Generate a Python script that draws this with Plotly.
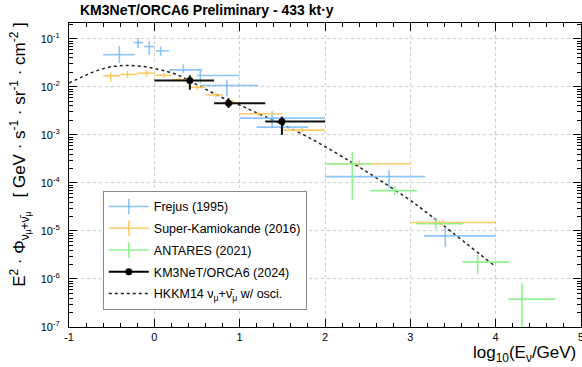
import plotly.graph_objects as go
import numpy as np

# ---------------- data ----------------
# Frejus (1995)
frejus_x    = [-0.41, -0.19, -0.06, 0.074, 0.34, 0.54, 0.85, 1.38, 1.50, 2.75, 3.41]
frejus_xlo  = [-0.60, -0.245, -0.12, 0.015, 0.17, 0.50, 0.54, 1.00, 1.20, 2.00, 3.16]
frejus_xhi  = [-0.23, -0.13, 0.00, 0.17, 0.56, 1.00, 1.22, 2.00, 1.80, 3.17, 4.00]
frejus_y    = [0.0468, 0.0838, 0.0692, 0.0562, 0.0226, 0.0172, 0.0107, 0.00224, 0.00145, 1.35e-4, 7.9e-6]
frejus_ylo  = [0.0312, 0.0646, 0.0465, 0.0443, 0.0195, 0.0120, 0.0063, 0.00138, 0.00110, 7.8e-5, 4.6e-6]
frejus_yhi  = [0.0714, 0.1030, 0.0879, 0.0692, 0.0295, 0.0226, 0.0140, 0.00309, 0.00174, 1.86e-4, 1.15e-5]

# Super-Kamiokande (2016)
sk_x   = [-0.51, -0.315, -0.09, 0.11, 0.29, 0.50, 0.72, 0.92, 1.22, 1.73, 2.40, 3.38]
sk_xlo = [-0.60, -0.40, -0.20, 0.00, 0.20, 0.40, 0.60, 0.80, 1.00, 1.50, 2.00, 3.00]
sk_xhi = [-0.40, -0.20, 0.00, 0.20, 0.40, 0.60, 0.80, 1.00, 1.50, 2.00, 3.00, 4.00]
sk_y   = [0.0170, 0.0182, 0.0193, 0.0174, 0.0141, 0.0098, 0.0068, 0.0047, 0.00275, 0.00126, 2.5e-4, 1.5e-5]
sk_ylo = [0.0129, 0.0155, 0.0164, 0.0155, 0.0126, 0.0087, 0.0061, 0.0042, 0.00245, 0.00112, 2.17e-4, 1.3e-5]
sk_yhi = [0.0200, 0.0214, 0.0227, 0.0195, 0.0158, 0.0110, 0.0076, 0.0053, 0.00309, 0.00141, 2.88e-4, 1.73e-5]

# ANTARES (2021)
ant_x   = [2.32, 2.82, 3.30, 3.79, 4.31]
ant_xlo = [2.00, 2.53, 3.07, 3.61, 4.15]
ant_xhi = [2.55, 3.08, 3.62, 4.16, 4.70]
ant_y   = [2.5e-4, 6.9e-5, 1.41e-5, 2.24e-6, 3.8e-7]
ant_ylo = [4.5e-5, 5.6e-5, 1.10e-5, 1.26e-6, 1.0e-8]
ant_yhi = [4.5e-4, 8.5e-5, 1.82e-5, 3.2e-6, 8.1e-7]

# KM3NeT/ORCA6 (2024)
km_x   = [0.416, 0.87, 1.495]
km_xlo = [0.00, 0.70, 1.30]
km_xhi = [0.70, 1.30, 2.00]
km_y   = [0.01355, 0.00457, 0.00190]
km_ylo = [0.0087, 0.00363, 0.00100]
km_yhi = [0.0174, 0.00582, 0.00240]

# HKKM14 nu_mu + anti-nu_mu w/ oscillations
hk_x = [-1.0, -0.85, -0.7, -0.5, -0.32, -0.12, 0.07, 0.27, 0.46, 0.66, 0.85, 1.0, 1.16, 1.475, 1.9, 2.32, 2.64, 2.99, 3.15, 3.38, 4.0]
hk_y = [0.0120, 0.0160, 0.0209, 0.0265, 0.0278, 0.0265, 0.0226, 0.0178, 0.0120, 0.0079, 0.0054, 0.0042, 0.0031, 0.00174,
        7.2e-4, 2.63e-4, 1.15e-4, 4.47e-5, 2.75e-5, 1.33e-5, 1.8e-6]

x_tickvals = [-1, 0, 1, 2, 3, 4, 5]
y_tickvals = [1e-7, 1e-6, 1e-5, 1e-4, 1e-3, 1e-2, 1e-1]
y_ticktext = ["10<sup>-7</sup>", "10<sup>-6</sup>", "10<sup>-5</sup>", "10<sup>-4</sup>",
              "10<sup>-3</sup>", "10<sup>-2</sup>", "10<sup>-1</sup>"]

series = [
    ("Frejus (1995)", frejus_x, frejus_xlo, frejus_xhi, frejus_y, frejus_ylo, frejus_yhi, "rgba(130,190,250,0.9)"),
    ("Super-Kamiokande (2016)", sk_x, sk_xlo, sk_xhi, sk_y, sk_ylo, sk_yhi, "rgba(255,200,95,0.95)"),
    ("ANTARES (2021)", ant_x, ant_xlo, ant_xhi, ant_y, ant_ylo, ant_yhi, "rgba(140,240,140,0.95)"),
]

FONT = "Liberation Sans, Arial, sans-serif"
fig = go.Figure()

# HKKM14 curve
fig.add_trace(go.Scatter(x=hk_x, y=hk_y, mode="lines", line=dict(color="#222", width=1.5, dash="dot", shape="spline"),
                         showlegend=False, hoverinfo="skip"))

for name, x, xlo, xhi, y, ylo, yhi, col in series:
    x = np.array(x); y = np.array(y)
    fig.add_trace(go.Scatter(
        x=x, y=y, mode="markers", marker=dict(size=1, color=col), showlegend=False,
        error_x=dict(type="data", symmetric=False, array=np.array(xhi) - x, arrayminus=x - np.array(xlo),
                     color=col, thickness=1.6, width=0),
        error_y=dict(type="data", symmetric=False, array=np.array(yhi) - y, arrayminus=y - np.array(ylo),
                     color=col, thickness=1.6, width=0),
    ))

kx = np.array(km_x); ky = np.array(km_y)
fig.add_trace(go.Scatter(
    x=kx, y=ky, mode="markers", marker=dict(size=7, color="black", symbol="circle"), showlegend=False,
    error_x=dict(type="data", symmetric=False, array=np.array(km_xhi) - kx, arrayminus=kx - np.array(km_xlo),
                 color="#111", thickness=2, width=0),
    error_y=dict(type="data", symmetric=False, array=np.array(km_yhi) - ky, arrayminus=ky - np.array(km_ylo),
                 color="#111", thickness=2, width=0),
))

# legend entries
for i, (name, *_rest, col) in enumerate(series):
    fig.add_trace(go.Scatter(x=[None], y=[None], mode="lines+markers", name=name, legendgroup=name,
                             line=dict(color=col, width=1.6),
                             marker=dict(symbol="line-ns-open", size=11, line=dict(color=col, width=1.6))))
fig.add_trace(go.Scatter(x=[None], y=[None], mode="lines+markers", name="KM3NeT/ORCA6 (2024)", legendgroup="km",
                         line=dict(color="black", width=2), marker=dict(symbol="circle", size=7, color="black")))
fig.add_trace(go.Scatter(x=[None], y=[None], mode="lines", name="HKKM14 ν<sub>μ</sub>+ν̄<sub>μ</sub> w/ osci.",
                         legendgroup="hk", line=dict(color="#222", width=1.5, dash="dot")))

axis_common = dict(showline=True, linecolor="black", linewidth=1, mirror="ticks", ticks="inside", ticklen=8,
                   tickcolor="black", showgrid=True, gridcolor="rgb(205,205,205)", griddash="dot", gridwidth=1,
                   zeroline=False, tickfont=dict(family=FONT, size=11, color="black"))

fig.update_xaxes(range=[-1, 5], tickvals=x_tickvals, ticktext=[str(v) for v in x_tickvals],
                 ticklabeloverflow="allow", automargin=False,
                 minor=dict(ticks="inside", dtick=0.2, tick0=0, ticklen=4, tickcolor="black"),
                 **axis_common)
fig.update_yaxes(type="log", range=[-7, -0.67], tickvals=y_tickvals, ticktext=y_ticktext,
                 minor=dict(ticks="inside", dtick="D1", ticklen=4, tickcolor="black", showgrid=False),
                 ticklabelstandoff=6, automargin=False, **axis_common)

fig.update_layout(
    width=582, height=367, margin=dict(l=69, r=1, t=23, b=40, autoexpand=False),
    plot_bgcolor="white", paper_bgcolor="white",
    font=dict(family=FONT, color="black"),
    legend=dict(x=0.066, y=0.448, xanchor="left", yanchor="top", bgcolor="white", bordercolor="#888",
                borderwidth=1, font=dict(family=FONT, size=12.5), tracegroupgap=2.5, itemwidth=40),
    annotations=[
        dict(text="<b>KM3NeT/ORCA6 Preliminary - 433 kt·y</b>", xref="paper", yref="paper", x=0.0176, y=1.0428,
             xanchor="left", yanchor="middle", showarrow=False, font=dict(family=FONT, size=14)),
        dict(text="log<sub>10</sub>(E<sub>ν</sub>/GeV)", xref="paper", yref="paper", x=0.994, y=-0.088,
             xanchor="right", yanchor="middle", showarrow=False, font=dict(family=FONT, size=17)),
        dict(text="E<sup>2</sup> · Φ<sub>ν<sub>μ</sub>+ν̄<sub>μ</sub></sub>   [ GeV · s<sup>-1</sup> · sr<sup>-1</sup> · cm<sup>-2</sup> ]",
             xref="paper", yref="paper", x=-0.095, y=1.01, xanchor="center", yanchor="top", textangle=-90,
             showarrow=False, font=dict(family=FONT, size=17)),
    ],
)

fig.write_html("out.html")
